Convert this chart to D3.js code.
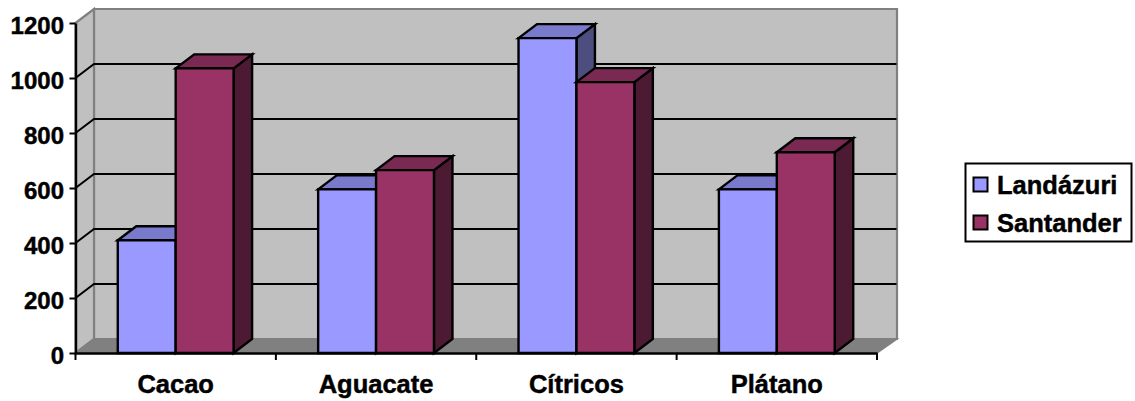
<!DOCTYPE html>
<html><head><meta charset="utf-8">
<script src="https://cdnjs.cloudflare.com/ajax/libs/d3/7.8.5/d3.min.js"></script>
<style>html,body{margin:0;background:#fff}svg{display:block}
text{font-family:"Liberation Sans",Arial,sans-serif;font-weight:700;fill:#000;stroke:#000;stroke-width:0.45px}</style></head>
<body><svg id="c" width="1135" height="401"></svg>
<script>
const categories=["Cacao","Aguacate","Cítricos","Plátano"];
const seriesNames=["Landázuri","Santander"];
const landazuri=[410,595,1145,595];
const santander=[1035,665,985,730];
const yTicks=[0,200,400,600,800,1000,1200];
const faces={Landázuri:["#9999FF","#7A7ACC","#4D4D80"],Santander:["#993366","#7A2952","#4D1A33"]};

const svg=d3.select("#c");
const dx=18.5,dy=-14;
const x=d3.scaleBand().domain(categories).range([75.5,877]);
const x1=d3.scaleBand().domain(seriesNames).range([0,x.bandwidth()]).paddingInner(0).paddingOuter(0.73);
const y=d3.scaleLinear().domain([0,1200]).range([353,23]);
const [xl,xr]=x.range(),y0=y(0),yt=y(1200);
const poly=(pts,fill,stroke,sw)=>svg.append("polygon").attr("points",pts.map(p=>p.join(",")).join(" "))
  .attr("fill",fill).attr("stroke",stroke||"none").attr("stroke-width",sw||0).attr("stroke-linejoin","miter");

// walls and floor
poly([[xl+dx,yt+dy],[xr+dx+1.5,yt+dy],[xr+dx+1.5,y0+dy],[xl+dx,y0+dy]],"#C0C0C0","#808080",2.2);
poly([[xl,yt],[xl+dx,yt+dy],[xl+dx,y0+dy],[xl,y0]],"#C0C0C0","#808080",2.2);
poly([[xl,y0],[xl+dx,y0+dy],[xr+dx+1.5,y0+dy],[xr,y0]],"#808080","#808080",1.5);

// gridlines
yTicks.slice(1,-1).forEach(t=>{
  svg.append("path").attr("fill","none").attr("stroke","#000").attr("stroke-width",2)
   .attr("d",`M${xl},${y(t)}L${xl+dx},${y(t)+dy}L${xr+dx+1},${y(t)+dy}`);
});

// bars
const barStroke={stroke:"#000",w:2.4};
categories.forEach((c,i)=>{
  seriesNames.forEach((s,k)=>{
    const v=(k===0?landazuri:santander)[i];
    const l=x(c)+x1(s),r=l+x1.bandwidth(),t=y(v),b=y(0);
    const f=faces[s];
    poly([[r,t],[r+dx,t+dy],[r+dx,b+dy],[r,b]],f[2],barStroke.stroke,barStroke.w);
    poly([[l,t],[l+dx,t+dy],[r+dx,t+dy],[r,t]],f[1],barStroke.stroke,barStroke.w);
    poly([[l,t],[r,t],[r,b],[l,b]],f[0],barStroke.stroke,barStroke.w);
  });
});

// axes
const ga=svg.append("g").attr("transform",`translate(${xl},0)`)
  .call(d3.axisLeft(y).tickValues(yTicks).tickSize(6).tickSizeOuter(0).tickPadding(5.5).tickFormat(d3.format("d")));
const gb=svg.append("g").attr("transform",`translate(0,${y0})`)
  .call(d3.axisBottom(x).tickValues([]).tickSize(0).tickSizeOuter(0));
const edges=categories.map(c=>x(c)).concat([xr]);
svg.append("g").selectAll("line").data(edges).join("line")
  .attr("x1",d=>d).attr("x2",d=>d).attr("y1",y0).attr("y2",y0+7).attr("stroke","#000").attr("stroke-width",2);
[ga,gb].forEach(g=>{g.selectAll(".domain").attr("stroke","#000").attr("stroke-width",2.4);
  g.selectAll(".tick line").attr("stroke","#000").attr("stroke-width",2);});
ga.selectAll("text").style("font-size","24px").attr("dy","0.43em");
ga.attr("font-family",null);gb.attr("font-family",null);
svg.append("g").selectAll("text").data(categories).join("text")
  .attr("x",d=>x(d)+x.bandwidth()/2).attr("y",392.5).attr("text-anchor","middle").style("font-size","25.5px").text(d=>d);

// legend
const lg=svg.append("g");
lg.append("rect").attr("x",965.5).attr("y",163.5).attr("width",166).attr("height",78).attr("fill","#fff").attr("stroke","#000").attr("stroke-width",2);
seriesNames.forEach((s,i)=>{
  const cy=184.5+i*38;
  lg.append("rect").attr("x",973.5).attr("y",cy-7).attr("width",14).attr("height",14).attr("fill",faces[s][0]).attr("stroke","#000").attr("stroke-width",2);
  lg.append("text").attr("x",997).attr("y",cy+9).style("font-size","25.5px").text(s);
});
</script></body></html>
